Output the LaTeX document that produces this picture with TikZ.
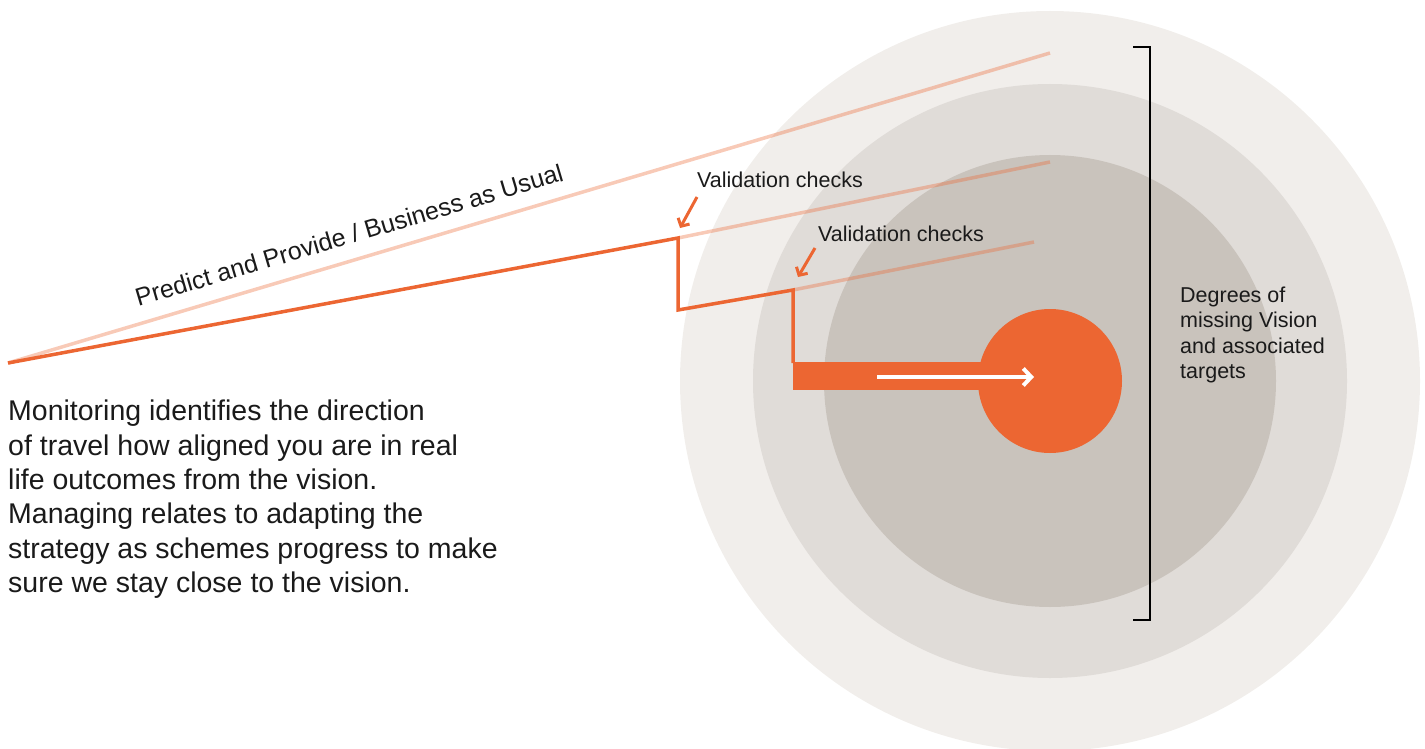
\documentclass[tikz,border=0pt]{standalone}
\usepackage{fontspec}
\setmainfont{Liberation Sans}
\usetikzlibrary{arrows.meta}
\definecolor{ringa}{HTML}{F1EEEB}
\definecolor{ringb}{HTML}{E0DCD8}
\definecolor{ringc}{HTML}{C9C3BC}
\definecolor{vorange}{HTML}{EC6632}
\definecolor{ink}{HTML}{1A1A1A}
\tikzset{
  route/.style={draw=vorange, line width=3.5pt, line join=miter},
  paleline/.style={draw=vorange, draw opacity=0.35, line width=3.5pt},
  pointer/.style={draw=vorange, line width=3pt, -{Straight Barb[length=6pt,width=13pt]}},
  label/.style={inner sep=0pt, text=ink, font=\fontsize{21.5}{25.2}\selectfont},
}
\begin{document}
\begin{tikzpicture}[x=1pt,y=-1pt]
\useasboundingbox (0,0) rectangle (1425,749);
\begin{scope}
\clip (0,0) rectangle (1425,749);
\coordinate (ctr) at (1050,381);
\fill[ringa] (ctr) circle[radius=370];
\fill[ringb] (ctr) circle[radius=297];
\fill[ringc] (ctr) circle[radius=226];
\end{scope}
% path points
\coordinate (A) at (8,363);
\coordinate (B) at (678,238);
\coordinate (C) at (678,310);
\coordinate (D) at (793,290);
\coordinate (E) at (793,363);
\coordinate (P1) at (1050,53);
\coordinate (P2) at (1050,162);
\coordinate (P3) at (1034,242);
% pale projections
\draw[paleline] (A) -- (P1);
\draw[paleline] (B) -- (P2);
\draw[paleline] (D) -- (P3);
% bar and target
\fill[vorange] (793,361.5) rectangle (1050,390);
\node[circle, fill=vorange, minimum size=144pt, inner sep=0pt] (target) at (1050,381) {};
\draw[route] (A) -- (B) -- (C) -- (D) -- (E);
% white arrow
\coordinate (W1) at (877,377);
\coordinate (W2) at (1034,377);
\draw[white, line width=4pt, -{Straight Barb[length=8pt,width=17pt]}] (W1) -- (W2);
% validation labels
\node[label, anchor=base west] (v1) at (697,187.5) {Validation checks};
\node[label, anchor=base west] (v2) at (818,241) {Validation checks};
\coordinate (a1s) at (697,197);
\coordinate (a1e) at (680,228);
\coordinate (a2s) at (815,248);
\coordinate (a2e) at (798,277);
\draw[pointer] (a1s) -- (a1e);
\draw[pointer] (a2s) -- (a2e);
% rotated label
\node[inner sep=0pt, text=ink, font=\fontsize{25}{30}\selectfont, rotate=16.5] (bau) at (349,235) {Predict and Provide / Business as Usual};
% bracket
\coordinate (K1) at (1133,47);
\coordinate (K2) at (1150,47);
\coordinate (K3) at (1150,620);
\coordinate (K4) at (1133,620);
\draw[black, line width=2pt] (K1) -- (K2) -- (K3) -- (K4);
\node[label, anchor=north west, align=left] (deg) at (1180,287) {Degrees of\\missing Vision\\and associated\\targets};
% paragraph
\node[inner sep=0pt, anchor=north west, align=left, text=ink, font=\fontsize{28.5}{34.3}\selectfont] (para) at (8,400) {Monitoring identifies the direction\\of travel how aligned you are in real\\life outcomes from the vision.\\Managing relates to adapting the\\strategy as schemes progress to make\\sure we stay close to the vision.};
\end{tikzpicture}
\end{document}
